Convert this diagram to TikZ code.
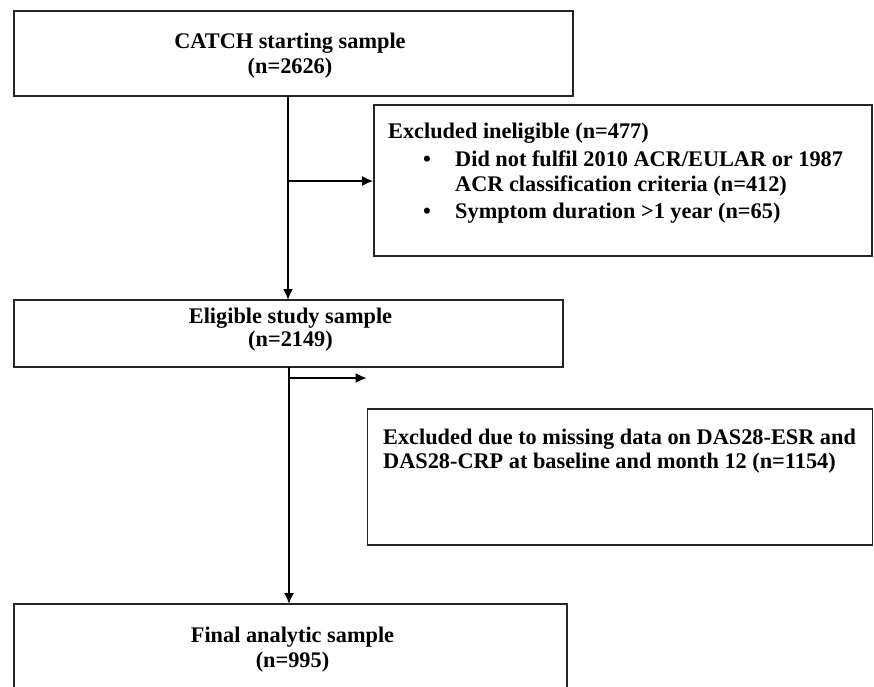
\documentclass[tikz,border=0pt]{standalone}
\usepackage{fontspec}
\setmainfont{Liberation Serif}
\usetikzlibrary{arrows.meta}
\begin{document}
\begin{tikzpicture}[x=1pt,y=-1pt,
  boxstyle/.style={draw=black!85, line width=1.6pt, inner sep=0pt},
  txt/.style={font=\bfseries\fontsize{22.3}{24}\selectfont, inner sep=0pt},
  ctxt/.style={txt, anchor=base},
  ltxt/.style={txt, anchor=base west},
  conn/.style={draw=black, line width=1.7pt},
  arr/.style={conn, -{Latex[length=11pt,width=10pt]}}]
\useasboundingbox (0,0) rectangle (874,686);
% boxes
\node[boxstyle, minimum width=559pt, minimum height=85pt] (b1) at (293.5,53.5) {};
\node[boxstyle, minimum width=498pt, minimum height=151pt] (b2) at (623,180.5) {};
\node[boxstyle, minimum width=549pt, minimum height=67pt] (b3) at (288.5,333.5) {};
\node[boxstyle, minimum width=505pt, minimum height=136pt] (b4) at (620,477) {};
\draw[boxstyle] (14,700) -- (14,604) coordinate (b5nw) -- (567,604) coordinate (b5ne) -- (567,700);
\coordinate (b5top) at (289,604);
% texts
\node[ctxt] (t1a) at (290,48) {CATCH starting sample};
\node[ctxt] (t1b) at (290,73) {(n=2626)};
\node[ltxt] (t2a) at (388,138) {Excluded ineligible (n=477)};
\node[txt, anchor=base] (t2b) at (427,166) {\textbullet};
\node[ltxt] (t2c) at (455,166) {Did not fulfil 2010 ACR/EULAR or 1987};
\node[ltxt] (t2d) at (455,191) {ACR classification criteria (n=412)};
\node[txt, anchor=base] (t2e) at (427,218) {\textbullet};
\node[ltxt] (t2f) at (455,218) {Symptom duration >1 year (n=65)};
\node[ctxt] (t3a) at (290.5,323) {Eligible study sample};
\node[ctxt] (t3b) at (290.5,346) {(n=2149)};
\node[ltxt] (t4a) at (383,444) {Excluded due to missing data on DAS28-ESR and};
\node[ltxt] (t4b) at (383,468) {DAS28-CRP at baseline and month 12 (n=1154)};
\node[ctxt] (t5a) at (292.5,642) {Final analytic sample};
\node[ctxt] (t5b) at (292.5,667) {(n=995)};
% connectors
\coordinate (s1) at (288,96);
\coordinate (e1) at (288,300);
\coordinate (j1) at (288,181);
\draw[arr] (s1) -- (e1);
\draw[arr] (j1) -- (b2.west |- j1);
\coordinate (s2) at (289,367);
\coordinate (j2) at (289,378);
\draw[arr] (s2) -- (b5top);
\draw[arr] (j2) -- (b4.west |- j2);
\end{tikzpicture}
\end{document}
